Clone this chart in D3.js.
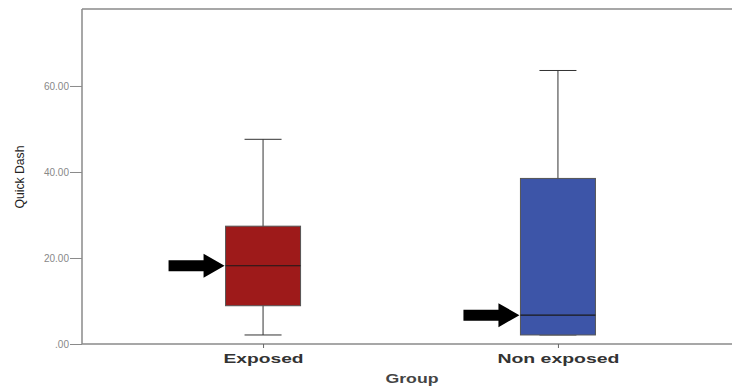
<html>
<head>
<script src="https://d3js.org/d3.v7.min.js"></script>
<style>
  body { margin: 0; background: #fff; }
  text { font-family: "Liberation Sans", Arial, sans-serif; }
</style>
</head>
<body>
<svg width="732" height="390"></svg>
<script>
// data
var groups = ["Exposed", "Non exposed"];
var lowWhisker = [2.1, 2.1];
var q1 = [8.9, 2.1];
var median = [18.2, 6.7];
var q3 = [27.4, 38.5];
var highWhisker = [47.6, 63.6];
var colors = ["#9e1a1a", "#3d55a8"];
var yTicks = [0, 20, 40, 60];

var svg = d3.select("svg");
var plotLeft = 82, plotTop = 9, plotBottom = 344;

var xs = d3.scalePoint().domain(groups).range([plotLeft, 739]).padding(0.614);
var ys = d3.scaleLinear().domain([0, 77.9]).range([plotBottom, plotTop]);
var boxW = 75, capW = 37;

// frame line on top (runs off the right edge)
svg.append("line").attr("x1", plotLeft).attr("x2", 732).attr("y1", plotTop).attr("y2", plotTop)
  .attr("stroke", "#8a8a8a").attr("stroke-width", 1.5);

// y axis
var yAxis = svg.append("g").attr("transform", "translate(" + plotLeft + ",0)")
  .call(d3.axisLeft(ys).tickValues(yTicks).tickSize(12).tickPadding(1)
    .tickFormat(function(d) { return d == 0 ? ".00" : d3.format(".2f")(d); }));
yAxis.select(".domain").attr("stroke", "#8a8a8a").attr("stroke-width", 1.5).attr("d", "M0," + plotTop + "V" + plotBottom);
yAxis.selectAll(".tick line").attr("stroke", "#8a8a8a");
yAxis.selectAll(".tick text").attr("fill", "#888").style("font-size", "10px");

// x axis
var xAxis = svg.append("g").attr("transform", "translate(0," + plotBottom + ")")
  .call(d3.axisBottom(xs).tickSize(4).tickPadding(6));
xAxis.select(".domain").attr("stroke", "#8a8a8a").attr("stroke-width", 1.5).attr("d", "M" + plotLeft + ",0H740");
xAxis.selectAll(".tick line").attr("stroke", "#666");
xAxis.selectAll(".tick text").attr("fill", "#333").style("font-size", "13px").style("font-weight", "bold")
  .attr("lengthAdjust", "spacingAndGlyphs")
  .attr("textLength", function(d) { return d == "Exposed" ? 80 : 122; });

// axis titles
svg.append("text").attr("x", 412).attr("y", 383).attr("text-anchor", "middle")
  .style("font-size", "12px").style("font-weight", "bold").attr("fill", "#444")
  .attr("lengthAdjust", "spacingAndGlyphs").attr("textLength", 53).text("Group");
svg.append("text").attr("transform", "translate(24,177) rotate(-90)").attr("text-anchor", "middle")
  .style("font-size", "12px").attr("fill", "#222")
  .attr("lengthAdjust", "spacingAndGlyphs").attr("textLength", 63).text("Quick Dash");

// boxes
var idx = d3.range(groups.length);
var g = svg.append("g");
g.selectAll(".whisker").data(idx).enter().append("line")
  .attr("x1", function(i) { return xs(groups[i]); }).attr("x2", function(i) { return xs(groups[i]); })
  .attr("y1", function(i) { return ys(highWhisker[i]); }).attr("y2", function(i) { return ys(lowWhisker[i]); })
  .attr("stroke", "#333").attr("stroke-width", 1);
g.selectAll(".capHi").data(idx).enter().append("line")
  .attr("x1", function(i) { return xs(groups[i]) - capW / 2; }).attr("x2", function(i) { return xs(groups[i]) + capW / 2; })
  .attr("y1", function(i) { return ys(highWhisker[i]); }).attr("y2", function(i) { return ys(highWhisker[i]); })
  .attr("stroke", "#333");
g.selectAll(".capLo").data(idx).enter().append("line")
  .attr("x1", function(i) { return xs(groups[i]) - capW / 2; }).attr("x2", function(i) { return xs(groups[i]) + capW / 2; })
  .attr("y1", function(i) { return ys(lowWhisker[i]); }).attr("y2", function(i) { return ys(lowWhisker[i]); })
  .attr("stroke", "#333");
g.selectAll(".box").data(idx).enter().append("rect")
  .attr("x", function(i) { return xs(groups[i]) - boxW / 2; })
  .attr("width", boxW)
  .attr("y", function(i) { return ys(q3[i]); })
  .attr("height", function(i) { return ys(q1[i]) - ys(q3[i]); })
  .attr("fill", function(i) { return colors[i]; })
  .attr("stroke", "#555").attr("stroke-width", 1);
g.selectAll(".med").data(idx).enter().append("line")
  .attr("x1", function(i) { return xs(groups[i]) - boxW / 2; }).attr("x2", function(i) { return xs(groups[i]) + boxW / 2; })
  .attr("y1", function(i) { return ys(median[i]); }).attr("y2", function(i) { return ys(median[i]); })
  .attr("stroke", "#1a1a1a").attr("stroke-width", 1.2);

// arrows pointing at the medians
g.selectAll(".arrow").data(idx).enter().append("path")
  .attr("transform", function(i) { return "translate(" + (xs(groups[i]) - boxW / 2 - 1) + "," + ys(median[i]) + ")"; })
  .attr("d", "M0,0 L-21,-12 L-21,-5.5 L-56,-5.5 L-56,5.5 L-21,5.5 L-21,12 Z")
  .attr("fill", "#000");
</script>
</body>
</html>
